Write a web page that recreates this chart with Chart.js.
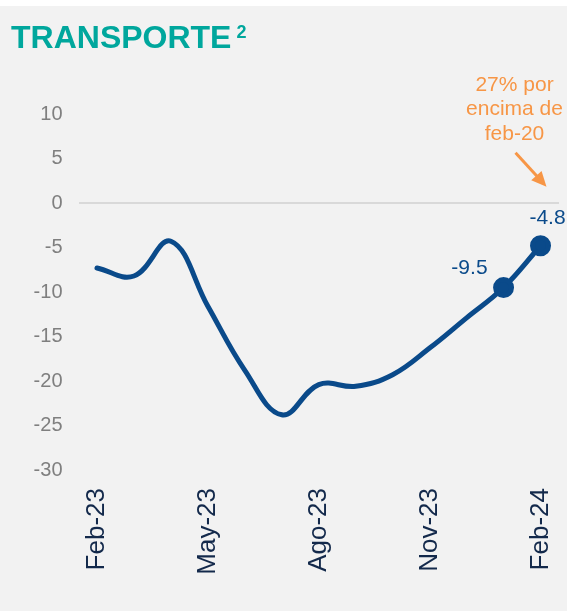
<!DOCTYPE html>
<html>
<head>
<meta charset="utf-8">
<script src="https://cdn.jsdelivr.net/npm/chart.js@4"></script>
<style>
  html, body { margin: 0; padding: 0; background: #ffffff; overflow: hidden; }
  #wrap { position: relative; width: 567px; height: 613px; overflow: hidden; }
</style>
</head>
<body>
<div id="wrap"><canvas id="transportChart" width="572" height="613"></canvas></div>
<script>
// Monthly series (% change)
const months = ["Feb-23", "Mar-23", "Abr-23", "May-23", "Jun-23", "Jul-23", "Ago-23",
  "Sep-23", "Oct-23", "Nov-23", "Dic-23", "Ene-24", "Feb-24"];
const transportValues = [-7.3, -8.2, -4.3, -11.6, -18.8, -23.8, -20.4, -20.6, -19.3, -16.3, -12.9, -9.5, -4.8];
const labelledPoints = [11, 12];
const noteLines = ["27% por", "encima de", "feb-20"];

const FONT = "'Liberation Sans', Arial, sans-serif";
const LINE_BLUE = "#0a4a8a";

// background, title, annotation and point labels
const decorPlugin = {
  id: "decor",
  beforeDraw(chart) {
    const ctx = chart.ctx;
    ctx.save();
    ctx.fillStyle = "#f2f2f2";
    ctx.fillRect(0, 6, chart.width, 605);
    ctx.restore();
  },
  afterDraw(chart) {
    const ctx = chart.ctx;
    ctx.save();
    // title
    ctx.fillStyle = "#00a79d";
    ctx.textBaseline = "alphabetic";
    ctx.textAlign = "left";
    ctx.font = "bold 32px " + FONT;
    ctx.fillText("TRANSPORTE", 11, 48);
    const w = ctx.measureText("TRANSPORTE").width;
    ctx.font = "bold 18px " + FONT;
    ctx.fillText("2", 11 + w + 5, 38);

    // value labels
    const meta = chart.getDatasetMeta(0);
    ctx.fillStyle = LINE_BLUE;
    ctx.font = "21px " + FONT;
    ctx.textBaseline = "middle";
    const p1 = meta.data[labelledPoints[0]];
    ctx.textAlign = "right";
    ctx.fillText(transportValues[labelledPoints[0]].toFixed(1), p1.x - 16, p1.y - 19);
    const p2 = meta.data[labelledPoints[1]];
    ctx.textAlign = "center";
    ctx.fillText(transportValues[labelledPoints[1]].toFixed(1), p2.x + 7, p2.y - 28);

    // note + arrow
    ctx.fillStyle = "#f79646";
    ctx.strokeStyle = "#f79646";
    ctx.font = "21px " + FONT;
    ctx.textAlign = "center";
    noteLines.forEach((t, i) => ctx.fillText(t, p2.x - 26, 85 + i * 24.5));
    const x0 = p2.x - 25, y0 = p2.y - 93, x1 = p2.x + 6, y1 = p2.y - 59;
    const ang = Math.atan2(y1 - y0, x1 - x0);
    ctx.lineWidth = 3;
    ctx.beginPath();
    ctx.moveTo(x0, y0);
    ctx.lineTo(x1 - 8 * Math.cos(ang), y1 - 8 * Math.sin(ang));
    ctx.stroke();
    ctx.beginPath();
    ctx.moveTo(x1, y1);
    ctx.lineTo(x1 - 15 * Math.cos(ang) + 7 * Math.sin(ang), y1 - 15 * Math.sin(ang) - 7 * Math.cos(ang));
    ctx.lineTo(x1 - 15 * Math.cos(ang) - 7 * Math.sin(ang), y1 - 15 * Math.sin(ang) + 7 * Math.cos(ang));
    ctx.closePath();
    ctx.fill();
    ctx.restore();
  }
};

new Chart(document.getElementById("transportChart").getContext("2d"), {
  type: "line",
  data: {
    labels: months,
    datasets: [{
      data: transportValues,
      borderColor: LINE_BLUE,
      backgroundColor: LINE_BLUE,
      borderWidth: 5,
      tension: 0.4,
      borderCapStyle: "round",
      pointRadius: transportValues.map((v, i) => labelledPoints.includes(i) ? 8 : 0),
      pointHoverRadius: 0,
      clip: false
    }]
  },
  options: {
    responsive: false,
    animation: false,
    layout: { padding: { left: 0, right: 0, top: 114, bottom: 0 } },
    plugins: { legend: { display: false }, tooltip: { enabled: false } },
    scales: {
      x: {
        offset: true,
        border: { display: false },
        grid: { display: false, drawTicks: false },
        afterFit(scale) {
          scale.height = 143;
          scale.paddingLeft = 0;
          scale.paddingRight = 0;
        },
        ticks: {
          autoSkip: false,
          minRotation: 90,
          maxRotation: 90,
          padding: 18,
          color: "#13294b",
          font: { family: FONT, size: 26 },
          callback(value, index) { return index % 3 === 0 ? months[index] : ""; }
        }
      },
      y: {
        min: -30,
        max: 10,
        border: { display: false },
        grid: {
          drawTicks: false,
          lineWidth: 2,
          color: (c) => c.tick && c.tick.value === 0 ? "#d9d9d9" : "rgba(0,0,0,0)"
        },
        afterFit(scale) { scale.width = 78.5; },
        ticks: {
          stepSize: 5,
          padding: 16,
          color: "#7f7f7f",
          font: { family: FONT, size: 20 }
        }
      }
    }
  },
  plugins: [decorPlugin]
});
</script>
</body>
</html>
